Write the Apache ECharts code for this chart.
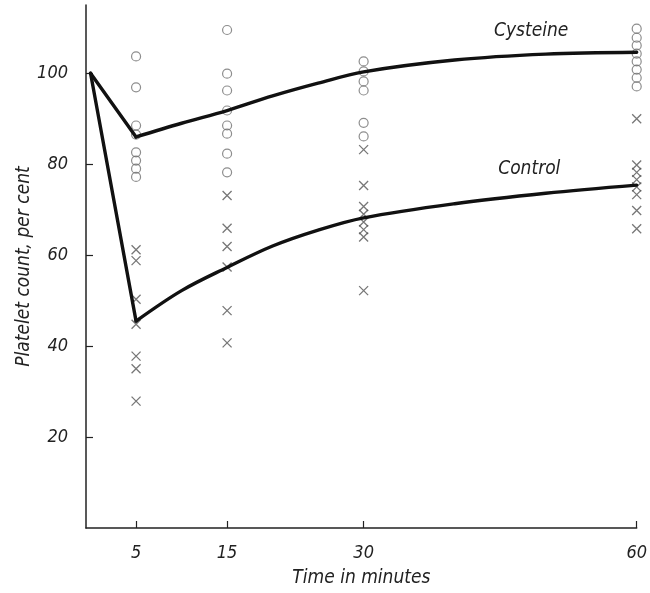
<!DOCTYPE html>
<html>
<head>
<meta charset="utf-8">
<script src="https://cdn.jsdelivr.net/npm/echarts@6/dist/echarts.min.js"></script>
<style>
  html, body { margin: 0; padding: 0; background: #fff; }
  #chart { width: 650px; height: 593px; }
</style>
</head>
<body>
<div id="chart"></div>
<script>
// Sampling times (minutes) shown on the time axis
const timeTicks = [5, 15, 30, 60];
const countTicks = [20, 40, 60, 80, 100];

// Individual platelet counts (% of initial), cysteine-treated group
const cysteine5 = [103.7, 96.9, 88.5, 86.5, 82.6, 80.8, 79.0, 77.2];
const cysteine15 = [109.5, 99.9, 96.2, 91.8, 88.5, 86.7, 82.3, 78.2];
const cysteine30 = [102.6, 100.4, 98.2, 96.2, 89.1, 86.1];
const cysteine60 = [109.8, 107.8, 106.1, 104.3, 102.6, 100.8, 99.0, 97.1];

// Individual platelet counts (% of initial), control group
const control5 = [61.2, 58.8, 50.3, 44.8, 37.8, 35.0, 27.9];
const control15 = [73.1, 65.9, 61.9, 57.4, 47.8, 40.7];
const control30 = [83.2, 75.3, 70.7, 69.0, 67.3, 65.6, 64.0, 52.2];
const control60 = [90.0, 79.8, 78.2, 76.6, 75.0, 73.3, 69.8, 65.8];

// Mean curves: initial fall (0 -> 5 min), then recovery
const startPoint = [0, 100];
const curveTimes = [5, 10, 15, 20, 25, 30, 40, 50, 60];
const cysteineCurve = [86.0, 89.0, 91.8, 95.0, 97.8, 100.3, 102.9, 104.2, 104.6];
const controlCurve = [45.5, 52.2, 57.3, 62.0, 65.5, 68.2, 71.3, 73.6, 75.4];

// Curve names and where they are written (time, count)
const curveNames = ['Cysteine', 'Control'];
const curveNameAt = [[48.4, 109.3], [48.2, 79.0]];

const FONT = "'DejaVu Sans Condensed', 'Liberation Sans Narrow', 'Roboto Condensed', Roboto, sans-serif";

function pairs(t, values) { return values.map(v => [t, v]); }
function curve(times, values) { return times.map((t, i) => [t, values[i]]); }

const cysteinePoints = [].concat(
  pairs(5, cysteine5), pairs(15, cysteine15), pairs(30, cysteine30), pairs(60, cysteine60));
const controlPoints = [].concat(
  pairs(5, control5), pairs(15, control15), pairs(30, control30), pairs(60, control60));

const cysCurve = curve(curveTimes, cysteineCurve);
const ctlCurve = curve(curveTimes, controlCurve);

const lineStyle = { color: '#111', width: 3.4, cap: 'round', join: 'round' };
const crossPath = 'path://M0,0L10,10M10,0L0,10';

const chart = echarts.init(document.getElementById('chart'), null, { renderer: 'canvas' });

chart.setOption({
  animation: false,
  backgroundColor: '#fff',
  grid: { left: 86, right: 10, top: 5, bottom: 61 },
  xAxis: {
    type: 'value',
    min: -0.5,
    max: 60,
    name: 'Time in minutes',
    nameLocation: 'middle',
    nameGap: 41,
    nameTextStyle: { fontFamily: FONT, fontStyle: 'italic', fontSize: 19, color: '#222' },
    axisLine: { onZero: false, lineStyle: { color: '#222', width: 1.5 } },
    axisTick: { inside: true, length: 7, customValues: timeTicks, lineStyle: { color: '#222', width: 1.2 } },
    axisLabel: { customValues: timeTicks, margin: 16, fontFamily: FONT, fontStyle: 'italic', fontSize: 18, color: '#222' },
    splitLine: { show: false }
  },
  yAxis: {
    type: 'value',
    min: 0,
    max: 115,
    name: 'Platelet count, per cent',
    nameLocation: 'middle',
    nameGap: 52,
    nameMoveOverlap: false,
    nameRotate: 90,
    nameTextStyle: { fontFamily: FONT, fontStyle: 'italic', fontSize: 19, color: '#222' },
    axisLine: { show: true, onZero: false, lineStyle: { color: '#222', width: 1.5 } },
    axisTick: { show: true, inside: true, length: 7, customValues: countTicks, lineStyle: { color: '#222', width: 1.2 } },
    axisLabel: { customValues: countTicks, margin: 18, fontFamily: FONT, fontStyle: 'italic', fontSize: 18, color: '#222' },
    splitLine: { show: false }
  },
  series: [
    {
      name: 'Cysteine points',
      type: 'scatter',
      data: cysteinePoints,
      symbol: 'circle',
      symbolSize: 9,
      itemStyle: { color: 'rgba(255,255,255,0)', borderColor: '#707070', borderWidth: 1.2 },
      z: 3
    },
    {
      name: 'Control points',
      type: 'scatter',
      data: controlPoints,
      symbol: crossPath,
      symbolSize: 9,
      itemStyle: { color: 'none', borderColor: '#555', borderWidth: 1.3 },
      z: 3
    },
    {
      name: 'Cysteine fall',
      type: 'line',
      data: [startPoint, cysCurve[0]],
      showSymbol: false,
      lineStyle: lineStyle,
      z: 4
    },
    {
      name: 'Cysteine',
      type: 'line',
      data: cysCurve,
      smooth: 0.35,
      showSymbol: false,
      lineStyle: lineStyle,
      z: 4
    },
    {
      name: 'Control fall',
      type: 'line',
      data: [startPoint, ctlCurve[0]],
      showSymbol: false,
      lineStyle: lineStyle,
      z: 4
    },
    {
      name: 'Control',
      type: 'line',
      data: ctlCurve,
      smooth: 0.35,
      showSymbol: false,
      lineStyle: lineStyle,
      z: 4
    }
  ]
});

// Write each curve's name next to it, placed through the chart's own scales
chart.setOption({
  graphic: curveNames.map((name, i) => {
    const p = chart.convertToPixel({ gridIndex: 0 }, curveNameAt[i]);
    return {
      type: 'text',
      x: p[0],
      y: p[1],
      style: {
        text: name,
        fontFamily: FONT,
        fontStyle: 'italic',
        fontSize: 19,
        fill: '#222',
        align: 'center',
        verticalAlign: 'middle'
      }
    };
  })
});
</script>
</body>
</html>
